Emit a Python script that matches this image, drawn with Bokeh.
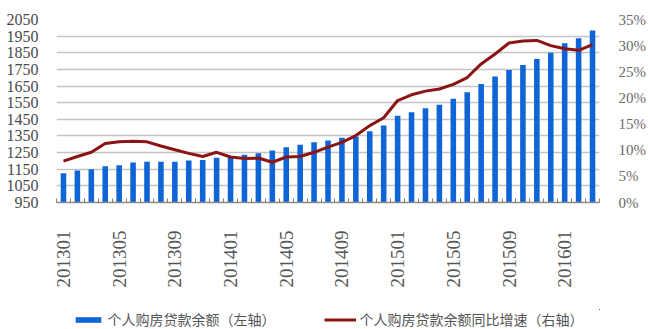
import math
from bokeh.plotting import figure
from bokeh.layouts import column
from bokeh.models import (Range1d, LinearAxis, FixedTicker, Legend, LegendItem,
                          ColumnDataSource)
from bokeh.embed import file_html
from bokeh.resources import INLINE

# ---- data ----
months = []
for yy in (2013, 2014, 2015, 2016):
    for mm in range(1, 13):
        months.append(f"{yy}{mm:02d}")
months = months[:39]  # 201301 .. 201603

balance = [1126, 1142, 1150, 1168, 1174, 1190, 1195, 1195, 1195, 1202,
           1205, 1219, 1225, 1237, 1246, 1262, 1282, 1297, 1312, 1323,
           1339, 1347, 1379, 1413, 1471, 1493, 1517, 1537, 1573, 1613,
           1663, 1707, 1747, 1777, 1813, 1850, 1907, 1937, 1984]

growth = [7.9, 8.8, 9.6, 11.3, 11.6, 11.7, 11.6, 10.8, 10.1, 9.4,
          8.8, 9.6, 8.7, 8.4, 8.5, 7.7, 8.7, 8.8, 9.6, 10.6,
          11.5, 12.8, 14.7, 16.2, 19.5, 20.6, 21.3, 21.7, 22.6, 23.9,
          26.5, 28.4, 30.5, 30.9, 31.0, 30.0, 29.4, 29.1, 30.2]

label_every = 4
bar_name = "个人购房贷款余额（左轴）"
line_name = "个人购房贷款余额同比增速（右轴）"

BAR_COLOR = "#0f65d6"
LINE_COLOR = "#8b1414"

idx = list(range(len(months)))
src = ColumnDataSource(dict(x=idx, bal=balance, g=growth, m=months))

p = figure(width=648, height=309, output_backend="svg", toolbar_location=None,
           x_range=Range1d(-0.5, len(months) - 0.5), y_range=Range1d(950, 2050),
           min_border_left=56, min_border_right=40, min_border_top=19,
           min_border_bottom=107, outline_line_color=None,
           background_fill_color="white", border_fill_color="white")
p.extra_y_ranges = {"pct": Range1d(0, 35)}

bars = p.vbar(x="x", top="bal", bottom=950, width=0.4, source=src,
              fill_color=BAR_COLOR, line_color=None)
line = p.line(x="x", y="g", source=src, y_range_name="pct",
              line_color=LINE_COLOR, line_width=3)

# grid
p.xgrid.grid_line_color = None
p.ygrid.ticker = FixedTicker(ticks=list(range(950, 2051, 100)))
p.ygrid.grid_line_color = "#c4c4c4"
p.ygrid.grid_line_width = 1.5

serif = "Liberation Serif"

# left axis
yax = p.yaxis[0]
yax.ticker = FixedTicker(ticks=list(range(950, 2051, 100)))
yax.axis_line_color = None
yax.major_tick_line_color = None
yax.minor_tick_line_color = None
yax.major_label_text_font = serif
yax.major_label_text_font_size = "16px"
yax.major_label_text_color = "#4a4a4a"
yax.major_label_standoff = 12

# right axis
rax = LinearAxis(y_range_name="pct", ticker=FixedTicker(ticks=list(range(0, 36, 5))))
rax.major_label_overrides = {v: f"{v}%" for v in range(0, 36, 5)}
rax.axis_line_color = None
rax.major_tick_line_color = None
rax.minor_tick_line_color = None
rax.major_label_text_font = serif
rax.major_label_text_font_size = "15px"
rax.major_label_text_color = "#6a6a6a"
rax.major_label_standoff = 13
p.add_layout(rax, "right")

# bottom axis
xax = p.xaxis[0]
xax.ticker = FixedTicker(ticks=idx[::label_every],
                         minor_ticks=[i + 0.5 for i in range(-1, len(months))])
xax.major_label_overrides = {i: months[i] for i in idx[::label_every]}
xax.major_label_orientation = math.pi / 2
xax.major_label_text_font = serif
xax.major_label_text_font_size = "19px"
xax.major_label_text_color = "#555555"
xax.major_label_standoff = 22
xax.axis_line_color = "#8a8a8a"
xax.axis_line_width = 1.5
xax.major_tick_line_color = None
xax.minor_tick_line_color = "#8a7a60"
xax.minor_tick_in = 4
xax.minor_tick_out = 0

# legend strip (separate small figure below the chart); the same series are
# drawn there outside its visible range so only the legend shows
lg = figure(width=648, height=20, output_backend="svg", toolbar_location=None,
            x_range=Range1d(-1000, -999), y_range=Range1d(-1000, -999),
            min_border_left=56, min_border_right=40, min_border_top=0,
            min_border_bottom=0, outline_line_color=None,
            background_fill_color="white", border_fill_color="white")
lg.axis.visible = False
lg.grid.visible = False
lb = lg.vbar(x="x", top="bal", bottom=950, width=0.4, source=src,
             fill_color=BAR_COLOR, line_color=None)
ll = lg.line(x="x", y="g", source=src, line_color=LINE_COLOR, line_width=3)

legend = Legend(items=[LegendItem(label=bar_name, renderers=[lb]),
                       LegendItem(label=line_name, renderers=[ll])],
                orientation="horizontal", location="center",
                label_text_font="Noto Sans CJK SC", label_text_font_size="14px",
                label_text_color="#555555", glyph_width=32, glyph_height=7,
                spacing=48, label_standoff=4, border_line_color=None,
                background_fill_alpha=0, margin=0, padding=0)
lg.add_layout(legend, "center")

layout = column(p, lg, spacing=0)
open("out.html", "w").write(file_html(layout, INLINE))
